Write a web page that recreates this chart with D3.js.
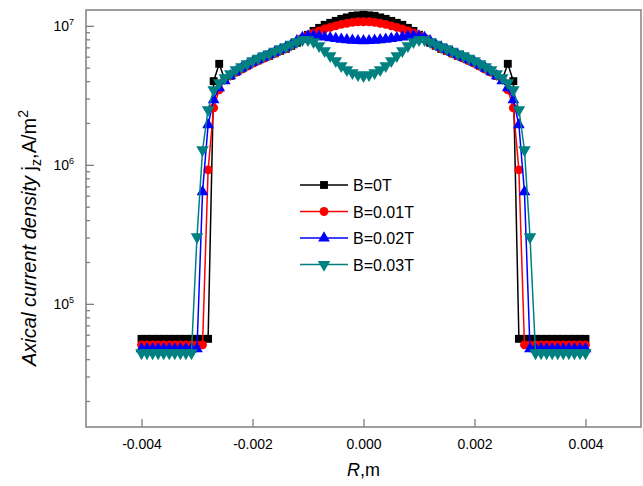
<!DOCTYPE html>
<html>
<head>
<meta charset="utf-8">
<script src="https://cdn.jsdelivr.net/npm/d3@7"></script>
<style>
  body { margin: 0; background: #fff; }
  svg { font-family: Arial, "Liberation Sans", sans-serif; }
  .axis path { display: none; }
  .axis line { stroke: #7f7f7f; stroke-width: 1.3; }
  .axis text { fill: #000; font-size: 14px; }
</style>
</head>
<body>
<div id="chart"></div>
<script>
// R positions (m)
var radius = [
  -0.0040, -0.0039, -0.0038, -0.0037, -0.0036, -0.0035, -0.0034, -0.0033, -0.0032, -0.0031,
  -0.0030, -0.0029, -0.0028, -0.0027, -0.0026, -0.0025, -0.0024, -0.0023, -0.0022, -0.0021,
  -0.0020, -0.0019, -0.0018, -0.0017, -0.0016, -0.0015, -0.0014, -0.0013, -0.0012, -0.0011,
  -0.0010, -0.0009, -0.0008, -0.0007, -0.0006, -0.0005, -0.0004, -0.0003, -0.0002, -0.0001,
  0.0000,
  0.0001, 0.0002, 0.0003, 0.0004, 0.0005, 0.0006, 0.0007, 0.0008, 0.0009, 0.0010,
  0.0011, 0.0012, 0.0013, 0.0014, 0.0015, 0.0016, 0.0017, 0.0018, 0.0019, 0.0020,
  0.0021, 0.0022, 0.0023, 0.0024, 0.0025, 0.0026, 0.0027, 0.0028, 0.0029, 0.0030,
  0.0031, 0.0032, 0.0033, 0.0034, 0.0035, 0.0036, 0.0037, 0.0038, 0.0039, 0.0040
];

// axial current density j_z (A/m^2) for each field
var jzB0 = [
  5.6e4, 5.6e4, 5.6e4, 5.6e4, 5.6e4, 5.6e4, 5.6e4, 5.6e4, 5.6e4, 5.6e4, 5.6e4, 5.6e4, 5.6e4,
  4.0e6, 5.33e6, 4.09e6, 4.37e6, 4.67e6, 4.91e6, 5.16e6, 5.42e6, 5.65e6, 5.89e6, 6.08e6, 6.34e6,
  6.61e6, 6.83e6, 7.18e6, 7.55e6, 8.06e6, 8.62e6, 9.2e6, 9.67e6, 1.017e7, 1.051e7, 1.086e7,
  1.123e7, 1.15e7, 1.18e7, 1.19e7,
  1.2e7,
  1.19e7, 1.18e7, 1.15e7, 1.123e7, 1.086e7, 1.051e7, 1.017e7, 9.67e6, 9.2e6, 8.62e6, 8.06e6,
  7.55e6, 7.18e6, 6.83e6, 6.61e6, 6.34e6, 6.08e6, 5.89e6, 5.65e6, 5.42e6, 5.16e6, 4.91e6,
  4.67e6, 4.37e6, 4.09e6, 5.33e6, 4.0e6,
  5.6e4, 5.6e4, 5.6e4, 5.6e4, 5.6e4, 5.6e4, 5.6e4, 5.6e4, 5.6e4, 5.6e4, 5.6e4, 5.6e4, 5.6e4
];

var jzB001 = [
  5.07e4, 5.07e4, 5.07e4, 5.07e4, 5.07e4, 5.07e4, 5.07e4, 5.07e4, 5.07e4, 5.07e4, 5.07e4, 5.07e4,
  9.2e5, 2.57e6, 3.46e6, 4.09e6, 4.37e6, 4.63e6, 4.87e6, 5.11e6, 5.37e6, 5.6e6, 5.84e6, 6.08e6,
  6.34e6, 6.61e6, 6.89e6, 7.25e6, 7.7e6, 8.2e6, 8.55e6, 8.9e6, 9.2e6, 9.51e6, 9.75e6, 1.0e7,
  1.025e7, 1.043e7, 1.06e7, 1.069e7,
  1.069e7,
  1.069e7, 1.06e7, 1.043e7, 1.025e7, 1.0e7, 9.75e6, 9.51e6, 9.2e6, 8.9e6, 8.55e6, 8.2e6,
  7.7e6, 7.25e6, 6.89e6, 6.61e6, 6.34e6, 6.08e6, 5.84e6, 5.6e6, 5.37e6, 5.11e6, 4.87e6,
  4.63e6, 4.37e6, 4.09e6, 3.46e6, 2.57e6, 9.2e5,
  5.07e4, 5.07e4, 5.07e4, 5.07e4, 5.07e4, 5.07e4, 5.07e4, 5.07e4, 5.07e4, 5.07e4, 5.07e4, 5.07e4
];

var jzB002 = [
  4.74e4, 4.74e4, 4.74e4, 4.74e4, 4.74e4, 4.74e4, 4.74e4, 4.74e4, 4.74e4, 4.74e4, 4.74e4,
  6.4e5, 1.94e6, 2.93e6, 3.58e6, 4.02e6, 4.37e6, 4.67e6, 4.95e6, 5.2e6, 5.46e6, 5.69e6, 5.93e6,
  6.19e6, 6.45e6, 6.72e6, 7.0e6, 7.35e6, 7.8e6, 8.25e6, 8.45e6, 8.47e6, 8.4e6, 8.3e6, 8.2e6,
  8.1e6, 8.0e6, 7.92e6, 7.86e6, 7.82e6,
  7.8e6,
  7.82e6, 7.86e6, 7.92e6, 8.0e6, 8.1e6, 8.2e6, 8.3e6, 8.4e6, 8.47e6, 8.45e6, 8.25e6, 7.8e6,
  7.35e6, 7.0e6, 6.72e6, 6.45e6, 6.19e6, 5.93e6, 5.69e6, 5.46e6, 5.2e6, 4.95e6, 4.67e6,
  4.37e6, 4.02e6, 3.58e6, 2.93e6, 1.94e6, 6.4e5,
  4.74e4, 4.74e4, 4.74e4, 4.74e4, 4.74e4, 4.74e4, 4.74e4, 4.74e4, 4.74e4, 4.74e4, 4.74e4
];

var jzB003 = [
  4.43e4, 4.43e4, 4.43e4, 4.43e4, 4.43e4, 4.43e4, 4.43e4, 4.43e4, 4.43e4, 4.43e4,
  3.03e5, 1.28e6, 2.49e6, 3.46e6, 3.89e6, 4.23e6, 4.52e6, 4.83e6, 5.07e6, 5.33e6, 5.6e6,
  5.84e6, 6.08e6, 6.29e6, 6.56e6, 6.83e6, 7.06e6, 7.36e6, 7.67e6, 7.93e6, 7.93e6, 7.67e6,
  7.18e6, 6.61e6, 6.08e6, 5.6e6, 5.16e6, 4.83e6, 4.59e6, 4.44e6,
  4.37e6,
  4.44e6, 4.59e6, 4.83e6, 5.16e6, 5.6e6, 6.08e6, 6.61e6, 7.18e6, 7.67e6, 7.93e6, 7.93e6,
  7.67e6, 7.36e6, 7.06e6, 6.83e6, 6.56e6, 6.29e6, 6.08e6, 5.84e6, 5.6e6, 5.33e6, 5.07e6,
  4.83e6, 4.52e6, 4.23e6, 3.89e6, 3.46e6, 2.49e6, 1.28e6, 3.03e5,
  4.43e4, 4.43e4, 4.43e4, 4.43e4, 4.43e4, 4.43e4, 4.43e4, 4.43e4, 4.43e4, 4.43e4
];

var seriesLabels = ["B=0T", "B=0.01T", "B=0.02T", "B=0.03T"];
var xTicks = [-0.004, -0.002, 0, 0.002, 0.004];
var yMajorTicks = [1e5, 1e6, 1e7];
var yMinorTicks = [2e4, 3e4, 4e4, 5e4, 6e4, 7e4, 8e4, 9e4,
                   2e5, 3e5, 4e5, 5e5, 6e5, 7e5, 8e5, 9e5,
                   2e6, 3e6, 4e6, 5e6, 6e6, 7e6, 8e6, 9e6];

var width = 643, height = 486;
var plot = { left: 86, right: 641, top: 10, bottom: 427 };

var colors = ["#000000", "#ff0000", "#0000ff", "#008080"];
var symbols = [d3.symbolSquare, d3.symbolCircle, d3.symbolTriangle, d3.symbolTriangle];
var symbolSizes = [62, 62, 60, 68];
var symbolRotate = [0, 0, 0, 180];

var series = [jzB0, jzB001, jzB002, jzB003].map(function(values, i) {
  return { label: seriesLabels[i], values: values };
});

var svg = d3.select("#chart").append("svg")
    .attr("width", width)
    .attr("height", height);

var x = d3.scaleLinear()
    .domain([-0.005, 0.005])
    .range([plot.left, plot.right]);

var y = d3.scaleLog()
    .domain([1.3e4, 1.3e7])
    .range([plot.bottom, plot.top]);

// axes (ticks point inward)
svg.append("g")
    .attr("class", "axis")
    .attr("transform", "translate(0," + plot.bottom + ")")
    .call(d3.axisBottom(x).tickValues(xTicks).tickSize(-8).tickPadding(12)
      .tickFormat(function(d) { return d.toFixed(3); }));

svg.append("g")
    .attr("class", "axis")
    .attr("transform", "translate(" + plot.left + ",0)")
    .call(d3.axisLeft(y).tickValues(yMajorTicks).tickSize(-8).tickFormat(""));

svg.append("g")
    .attr("class", "axis")
    .attr("transform", "translate(" + plot.left + ",0)")
    .call(d3.axisLeft(y).tickValues(yMinorTicks).tickSize(-4).tickFormat(""));

// power-of-ten labels
var yLab = svg.append("g").selectAll("text")
    .data(yMajorTicks)
    .enter().append("text")
    .attr("x", plot.left - 12)
    .attr("y", function(d) { return y(d) + 5; })
    .attr("text-anchor", "end")
    .style("font-size", "14px");
yLab.append("tspan").text("10");
yLab.append("tspan")
    .attr("dy", -6)
    .style("font-size", "9px")
    .text(function(d) { return Math.round(Math.log10(d)); });

// frame
svg.append("rect")
    .attr("x", plot.left)
    .attr("y", plot.top)
    .attr("width", plot.right - plot.left)
    .attr("height", plot.bottom - plot.top)
    .attr("fill", "none")
    .attr("stroke", "#7f7f7f")
    .attr("stroke-width", 1.5);

var line = d3.line()
    .x(function(d, i) { return x(radius[i]); })
    .y(function(d) { return y(d); });

series.forEach(function(s, k) {
  var g = svg.append("g");
  g.append("path")
      .attr("d", line(s.values))
      .attr("fill", "none")
      .attr("stroke", colors[k])
      .attr("stroke-width", 1.5);

  g.selectAll("path.marker")
      .data(s.values)
      .enter().append("path")
      .attr("class", "marker")
      .attr("d", d3.symbol().type(symbols[k]).size(symbolSizes[k]))
      .attr("fill", colors[k])
      .attr("transform", function(d, i) {
        return "translate(" + x(radius[i]) + "," + y(d) + ") rotate(" + symbolRotate[k] + ")";
      });
});

// legend
var legend = svg.selectAll(".legend")
    .data(series)
    .enter().append("g")
    .attr("class", "legend")
    .attr("transform", function(d, i) { return "translate(300," + (185 + i * 26.5) + ")"; });

legend.append("line")
    .attr("x1", 0).attr("x2", 48)
    .attr("stroke", function(d, i) { return colors[i]; })
    .attr("stroke-width", 1.5);

legend.append("path")
    .attr("d", function(d, i) { return d3.symbol().type(symbols[i]).size(symbolSizes[i])(); })
    .attr("fill", function(d, i) { return colors[i]; })
    .attr("transform", function(d, i) { return "translate(24,0) rotate(" + symbolRotate[i] + ")"; });

legend.append("text")
    .attr("x", 53)
    .attr("y", 6)
    .style("font-size", "16px")
    .text(function(d) { return d.label; });

// axis titles
var xTitle = svg.append("text")
    .attr("x", x(0))
    .attr("y", 476)
    .attr("text-anchor", "middle")
    .style("font-size", "18px");
xTitle.append("tspan").style("font-style", "italic").text("R");
xTitle.append("tspan").text(",m");

var yTitle = svg.append("text")
    .attr("transform", "translate(36,238) rotate(-90)")
    .attr("text-anchor", "middle")
    .style("font-size", "20px");
yTitle.append("tspan").style("font-style", "italic").text("Axical current density ");
yTitle.append("tspan").text("j");
yTitle.append("tspan").attr("dy", 5).style("font-size", "14px").text("z");
yTitle.append("tspan").attr("dy", -5).text(",A/m");
yTitle.append("tspan").attr("dy", -8).style("font-size", "14px").text("2");
</script>
</body>
</html>
